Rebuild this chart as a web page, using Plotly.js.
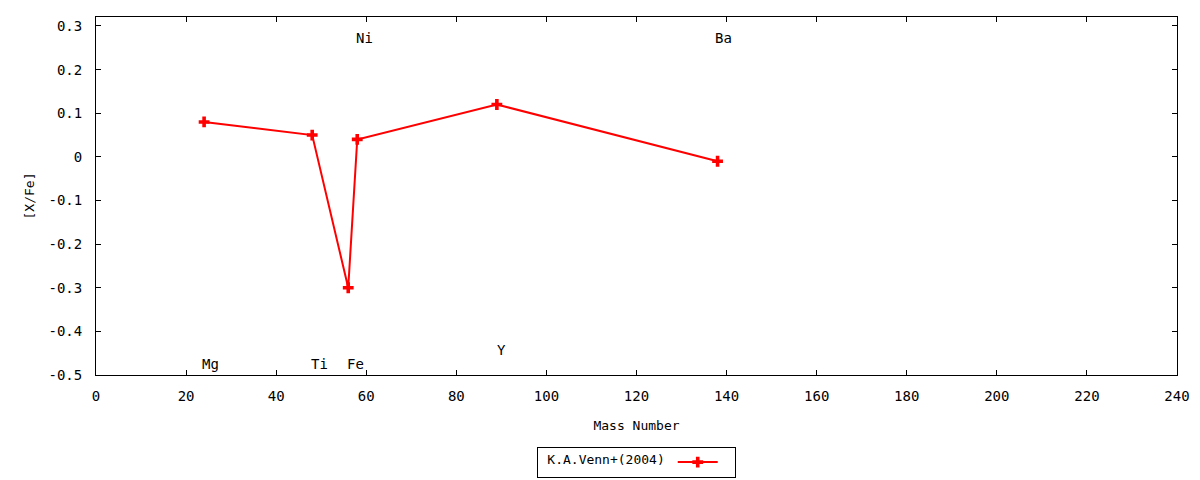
<!DOCTYPE html>
<html>
<head>
<meta charset="utf-8">
<script src="https://cdn.plot.ly/plotly-3.0.1.min.js"></script>
<style>
  html, body { margin: 0; padding: 0; background: #fff; }
  #plot { width: 1200px; height: 480px; }
</style>
</head>
<body>
<div id="plot"></div>
<script>
// abundance ratios vs mass number (K.A.Venn+ 2004)
var elements = ["Mg", "Ti", "Fe", "Ni", "Y", "Ba"];
var massNumber = [24, 48, 56, 58, 89, 138];
var xfe = [0.08, 0.05, -0.30, 0.04, 0.12, -0.01];

// element label positions (data coords)
var labelX = [23.4, 47.6, 55.6, 57.5, 88.8, 137.3];
var labelY = [-0.475, -0.475, -0.475, 0.272, -0.443, 0.272];

var yTickVals = [-0.5, -0.4, -0.3, -0.2, -0.1, 0, 0.1, 0.2, 0.3];
var yTickText = ["-0.5", "-0.4", "-0.3", "-0.2", "-0.1", "0", "0.1", "0.2", "0.3"];
var xTickVals = [0, 20, 40, 60, 80, 100, 120, 140, 160, 180, 200, 220, 240];

var fontFam = "DejaVu Sans Mono, monospace";

var trace1 = {
    x: massNumber,
    y: xfe,
    type: 'scatter',
    mode: 'lines+markers',
    name: ' ',
    line: {color: '#ff0000', width: 2},
    marker: {symbol: 'cross', size: 9, color: '#ff0000'},
    cliponaxis: false
};

var annots = elements.map(function(el, i){
    return {
        x: labelX[i], y: labelY[i],
        xref: 'x', yref: 'y',
        text: el, showarrow: false,
        xanchor: 'left', yanchor: 'middle',
        borderpad: 0,
        font: {family: fontFam, size: 14, color: '#000'}
    };
});

var layout = {
    width: 1200,
    height: 480,
    paper_bgcolor: '#fff',
    plot_bgcolor: '#fff',
    font: {family: fontFam, size: 14, color: '#000'},
    margin: {l: 96, r: 23, t: 17, b: 105, autoexpand: false},
    showlegend: true,
    legend: {
        orientation: 'h',
        x: 0.53, xanchor: 'center',
        xref: 'container',
        yref: 'container',
        y: 0.005, yanchor: 'bottom',
        bordercolor: '#000', borderwidth: 1,
        bgcolor: '#fff',
        title: {text: '\u00a0K.A.Venn+(2004)', side: 'left', font: {family: fontFam, size: 13}},
        font: {family: fontFam, size: 10},
        itemwidth: 40,
        tracegroupgap: 0
    },
    xaxis: {
        range: [0, 240],
        tickvals: xTickVals,
        ticks: 'inside', ticklen: 5, tickcolor: '#000',
        showline: true, linecolor: '#000', linewidth: 1,
        mirror: 'ticks',
        showgrid: false, zeroline: false,
        automargin: false,
        ticklabelstandoff: 8,
        title: {text: 'Mass Number', standoff: 18, font: {family: fontFam, size: 13}}
    },
    yaxis: {
        range: [-0.5, 0.3206],
        tickvals: yTickVals,
        ticktext: yTickText,
        ticks: 'inside', ticklen: 5, tickcolor: '#000',
        showline: true, linecolor: '#000', linewidth: 1,
        mirror: 'ticks',
        showgrid: false, zeroline: false,
        automargin: false,
        ticklabelstandoff: 10,
        title: {text: '[X/Fe]', standoff: 10, font: {family: fontFam, size: 13}}
    },
    annotations: annots
};

Plotly.newPlot('plot', [trace1], layout, {displayModeBar: false, staticPlot: true});
</script>
</body>
</html>
